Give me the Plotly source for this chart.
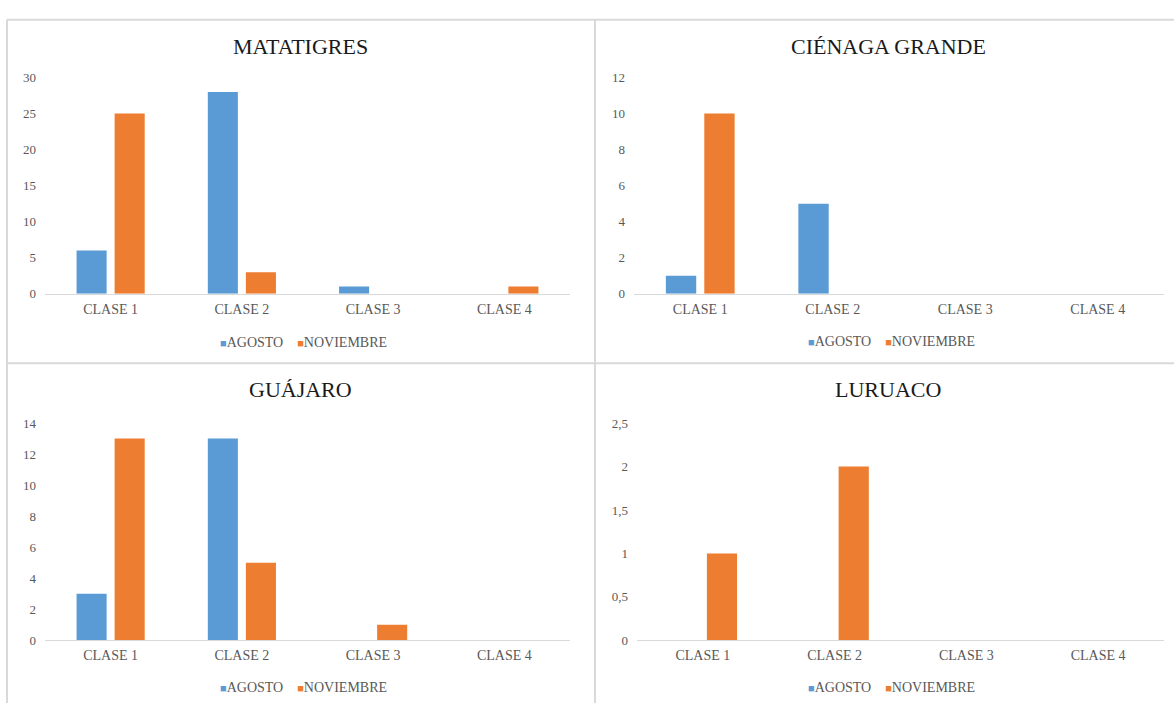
import plotly.graph_objects as go

W, H = 1174, 711

categories = ["CLASE 1", "CLASE 2", "CLASE 3", "CLASE 4"]
panel_titles = ["MATATIGRES", "CIÉNAGA GRANDE", "GUÁJARO", "LURUACO"]
series_names = ["AGOSTO", "NOVIEMBRE"]
agosto_matatigres = [6, 28, 1, 0]
noviembre_matatigres = [25, 3, 0, 1]
agosto_cienaga = [1, 5, 0, 0]
noviembre_cienaga = [10, 0, 0, 0]
agosto_guajaro = [3, 13, 0, 0]
noviembre_guajaro = [13, 5, 1, 0]
agosto_luruaco = [0, 0, 0, 0]
noviembre_luruaco = [1, 2, 0, 0]
y_ranges = [[0, 30], [0, 12], [0, 14], [0, 2.5]]
y_dticks = [5, 2, 2, 0.5]

series = [
    (agosto_matatigres, noviembre_matatigres),
    (agosto_cienaga, noviembre_cienaga),
    (agosto_guajaro, noviembre_guajaro),
    (agosto_luruaco, noviembre_luruaco),
]

BLUE = "#5B9BD5"
ORANGE = "#ED7D31"
FONT = "Liberation Serif"

def px_x(v):
    return v / W

def px_y(v):
    return 1 - v / H

# plot-area pixel boxes: (x0, x1, ytop, yzero)
boxes = [
    (45, 570, 72, 293),
    (634, 1164, 72, 293),
    (45, 570, 425, 647),
    (637, 1164, 425, 647),
]
title_pos = [(300, 40), (888, 40), (300, 391), (888, 391)]
legend_pos = [(303, 343), (891, 342), (303, 695), (891, 695)]

fig = go.Figure()
layout = dict(
    width=W, height=H,
    margin=dict(l=0, r=0, t=0, b=0),
    paper_bgcolor="white", plot_bgcolor="white",
    separators=",.",
    barmode="group", bargap=0.42, bargroupgap=0.21,
    font=dict(family=FONT, color="#595959"),
    showlegend=False,
)
annotations = []
for i, (ag, nov) in enumerate(series):
    n = i + 1
    xa = "x" if n == 1 else f"x{n}"
    ya = "y" if n == 1 else f"y{n}"
    fig.add_trace(go.Bar(x=categories, y=ag, name=series_names[0], marker_color=BLUE,
                         xaxis=xa, yaxis=ya, marker_line_width=0))
    fig.add_trace(go.Bar(x=categories, y=nov, name=series_names[1], marker_color=ORANGE,
                         xaxis=xa, yaxis=ya, marker_line_width=0))
    x0, x1, yt, yz = boxes[i]
    xkey = "xaxis" if n == 1 else f"xaxis{n}"
    ykey = "yaxis" if n == 1 else f"yaxis{n}"
    layout[xkey] = dict(domain=[px_x(x0), px_x(x1)], anchor=ya,
                        showgrid=False, showline=True, linecolor="#D9D9D9", linewidth=1,
                        ticks="", tickfont=dict(size=14, color="#595959", family=FONT),
                        ticklabelstandoff=2, fixedrange=True)
    layout[ykey] = dict(domain=[px_y(yz), px_y(yt)], anchor=xa,
                        range=y_ranges[i], dtick=y_dticks[i],
                        showgrid=False, showline=False, zeroline=False, ticks="",
                        tickfont=dict(size=13, color="#595959", family=FONT),
                        ticklabelstandoff=8, fixedrange=True)
    tx, ty = title_pos[i]
    annotations.append(dict(text=panel_titles[i], x=px_x(tx), y=px_y(ty), xref="paper", yref="paper",
                            xanchor="center", yanchor="middle", showarrow=False,
                            font=dict(size=22, color="#1a1a1a", family=FONT)))
    lx, ly = legend_pos[i]
    legend_text = (f'<span style="color:{BLUE};font-size:11px">■</span>{series_names[0]}'
                   f'&nbsp;&nbsp;&nbsp;&nbsp;'
                   f'<span style="color:{ORANGE};font-size:11px">■</span>{series_names[1]}')
    annotations.append(dict(text=legend_text, x=px_x(lx), y=px_y(ly), xref="paper", yref="paper",
                            xanchor="center", yanchor="middle", showarrow=False,
                            font=dict(size=14, color="#595959", family=FONT)))

line_style = dict(color="#D9D9D9", width=2)
shapes = [
    dict(type="line", xref="paper", yref="paper", x0=px_x(7), x1=1, y0=px_y(13), y1=px_y(13), line=line_style),
    dict(type="line", xref="paper", yref="paper", x0=px_x(7), x1=px_x(7), y0=px_y(13), y1=0, line=line_style),
    dict(type="line", xref="paper", yref="paper", x0=px_x(595), x1=px_x(595), y0=px_y(13), y1=0, line=line_style),
    dict(type="line", xref="paper", yref="paper", x0=px_x(7), x1=1, y0=px_y(364), y1=px_y(364), line=line_style),
]
layout["annotations"] = annotations
layout["shapes"] = shapes
fig.update_layout(**layout)
fig.write_html("out.html", post_script="document.body.style.margin='0';")
